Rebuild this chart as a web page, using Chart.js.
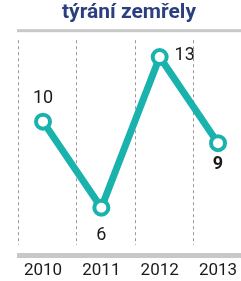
<!DOCTYPE html>
<html>
<head>
<meta charset="utf-8">
<script src="https://cdn.jsdelivr.net/npm/chart.js@4"></script>
<style>
  html, body { margin: 0; padding: 0; background: #fff; overflow: hidden; }
  canvas { display: block; }
</style>
</head>
<body>
<canvas id="chart" width="241" height="281"></canvas>
<script>
"use strict";

// data
const years = ["2010", "2011", "2012", "2013"];
const deaths = [10, 6, 13, 9];
const title = "týrání zemřely";

const teal = "#19b2ad";
const rule = "#c8c8c8";
const numFont = "'Roboto', sans-serif";

// dashed separators, top and bottom rules, value labels
const decor = {
  id: "decor",
  beforeDatasetsDraw(chart) {
    const { ctx, chartArea } = chart;
    const x = chart.scales.x;
    ctx.save();
    ctx.strokeStyle = "#999";
    ctx.lineWidth = 1;
    ctx.setLineDash([3, 3]);
    years.forEach((_, i) => {
      const px = Math.round(x.getPixelForValue(i - 0.43)) + 0.5;
      ctx.beginPath();
      ctx.moveTo(px, chartArea.top + 10);
      ctx.lineTo(px, chartArea.bottom - 10);
      ctx.stroke();
    });
    ctx.setLineDash([]);
    ctx.fillStyle = rule;
    ctx.fillRect(chartArea.left, chartArea.top - 1, chartArea.right - chartArea.left, 3);
    ctx.fillRect(chartArea.left, chartArea.bottom - 2, chartArea.right - chartArea.left, 5);
    ctx.restore();
  },
  afterDatasetsDraw(chart) {
    const { ctx } = chart;
    const pts = chart.getDatasetMeta(0).data;
    const offs = [[0, -23, "normal"], [0, 28, "normal"], [25, -2, "normal"], [0, 21, "bold"]];
    ctx.save();
    ctx.fillStyle = "#1a1a1a";
    ctx.textAlign = "center";
    ctx.textBaseline = "middle";
    pts.forEach((p, i) => {
      const o = offs[i];
      ctx.font = o[2] + " 18px " + numFont;
      ctx.fillText(String(deaths[i]), p.x + o[0], p.y + o[1]);
    });
    ctx.restore();
  }
};

new Chart(document.getElementById("chart"), {
  type: "line",
  data: {
    datasets: [{
      data: deaths.map((v, i) => ({ x: i, y: v })),
      borderColor: teal,
      borderWidth: 7,
      pointRadius: 7,
      pointBorderWidth: 4,
      pointBackgroundColor: "#fff",
      pointBorderColor: teal,
      tension: 0,
      clip: false
    }]
  },
  options: {
    responsive: false,
    animation: false,
    layout: { autoPadding: false, padding: { left: 17, right: 0, top: 0, bottom: 0 } },
    plugins: {
      legend: { display: false },
      tooltip: { enabled: false },
      title: {
        display: true,
        text: title,
        color: "#2b3f80",
        font: { family: "'Roboto', sans-serif", size: 21, weight: "bold", lineHeight: 1.2 },
        padding: { top: 0, bottom: 5 }
      }
    },
    scales: {
      x: {
        type: "linear",
        min: -0.446,
        max: 3.394,
        afterBuildTicks(scale) {
          scale.ticks = years.map((_, i) => ({ value: i }));
        },
        afterFit(scale) {
          scale.height = 26;
          scale.paddingLeft = 0;
          scale.paddingRight = 0;
        },
        grid: { display: false },
        border: { display: false },
        ticks: {
          padding: -2,
          maxRotation: 0,
          color: "#1a1a1a",
          font: { family: numFont, size: 17 },
          callback: (v) => years[v]
        }
      },
      y: {
        display: false,
        min: 3.8,
        max: 14.25
      }
    }
  },
  plugins: [decor]
});
</script>
</body>
</html>
